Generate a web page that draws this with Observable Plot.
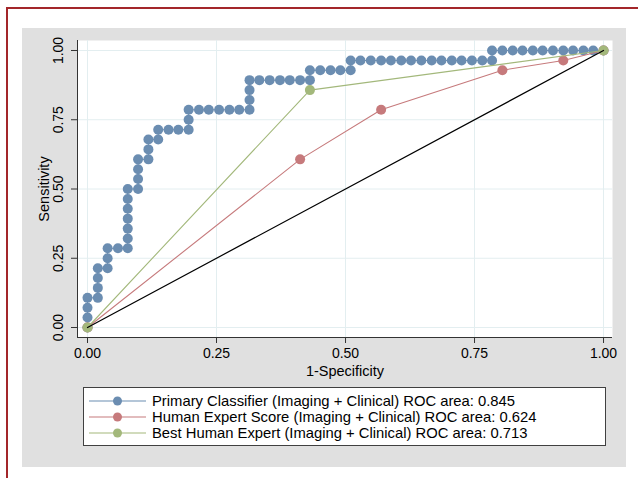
<!DOCTYPE html>
<html><head><meta charset="utf-8">
<script src="https://cdn.jsdelivr.net/npm/d3@7"></script>
<script src="https://cdn.jsdelivr.net/npm/@observablehq/plot@0.6"></script>
<style>
html,body{margin:0;padding:0;background:#fff;}
#wrap{position:relative;width:638px;height:478px;overflow:hidden;background:#fff;font-family:"Liberation Sans",Arial,Helvetica,sans-serif;}
#redTop{position:absolute;left:6px;top:7px;width:632px;height:2px;background:#a3262a;}
#redLeft{position:absolute;left:6px;top:7px;width:2px;height:471px;background:#a3262a;}
#panel{position:absolute;left:22px;top:28px;width:604px;height:439px;background:#e0e0e0;}
#chart{position:absolute;left:22px;top:28px;}
#legend{position:absolute;left:83px;top:387px;width:523px;height:59px;background:#fff;border:1px solid #404040;box-sizing:border-box;}
.row{position:absolute;left:0;height:16px;font-size:14.8px;line-height:16px;color:#000;white-space:nowrap;}
.row svg{position:absolute;left:5px;top:0;}
.row span{position:absolute;left:68px;top:0;}
</style></head>
<body>
<div id="wrap">
  <div id="redTop"></div><div id="redLeft"></div>
  <div id="panel"></div>
  <div id="chart"></div>
  <div id="legend"></div>
</div>
<script>
// Primary classifier ROC (1-specificity, sensitivity)
const primaryFpr = [
  0,0,0,0,
  0.020,0.020,0.020,0.020,
  0.039,0.039,0.039,
  0.059,
  0.078,0.078,0.078,0.078,0.078,0.078,0.078,
  0.098,0.098,0.098,0.098,
  0.118,0.118,0.118,
  0.137,0.137,
  0.157,0.176,0.196,0.196,0.196,
  0.216,0.235,0.255,0.275,0.294,0.314,0.314,0.314,0.314,
  0.333,0.353,0.373,0.392,0.412,0.431,0.431,
  0.451,0.471,0.490,0.510,0.510,
  0.529,0.549,0.569,0.588,0.608,0.627,0.647,0.667,0.686,0.706,0.725,0.745,0.765,0.784,0.784,
  0.804,0.824,0.843,0.863,0.882,0.902,0.922,0.941,0.961,0.980,1.000
];
const primaryTpr = [
  0,0.036,0.071,0.107,
  0.107,0.143,0.179,0.214,
  0.214,0.250,0.286,
  0.286,
  0.286,0.321,0.357,0.393,0.429,0.464,0.500,
  0.500,0.536,0.571,0.607,
  0.607,0.643,0.679,
  0.679,0.714,
  0.714,0.714,0.714,0.750,0.786,
  0.786,0.786,0.786,0.786,0.786,0.786,0.821,0.857,0.893,
  0.893,0.893,0.893,0.893,0.893,0.893,0.929,
  0.929,0.929,0.929,0.929,0.964,
  0.964,0.964,0.964,0.964,0.964,0.964,0.964,0.964,0.964,0.964,0.964,0.964,0.964,0.964,1.000,
  1.000,1.000,1.000,1.000,1.000,1.000,1.000,1.000,1.000,1.000,1.000
];
// Human expert score ROC
const humanFpr = [0,0.412,0.569,0.804,0.922,1];
const humanTpr = [0,0.607,0.786,0.929,0.964,1];
// Best human expert ROC
const bestFpr = [0,0.431,1];
const bestTpr = [0,0.857,1];
// Reference diagonal
const refFpr = [0,1];
const refTpr = [0,1];

const axisTicks = [0,0.25,0.5,0.75,1];
const xTitle = "1-Specificity";
const yTitle = "Sensitivity";
const seriesNames = [
  "Primary Classifier (Imaging + Clinical) ROC area: 0.845",
  "Human Expert Score (Imaging + Clinical) ROC area: 0.624",
  "Best Human Expert (Imaging + Clinical) ROC area: 0.713"
];
const seriesColors = ["#6b8db1","#c67a7c","#a3b87b"];

const toRows = (xs, ys) => xs.map((x,i)=>({x, y: ys[i]}));
const primary = toRows(primaryFpr, primaryTpr);
const human = toRows(humanFpr, humanTpr);
const best = toRows(bestFpr, bestTpr);
const ref = toRows(refFpr, refTpr);

const xDom = [-0.0194, 1.0174];
const yDom = [-0.0361, 1.0361];
const fmt = d3.format(".2f");
const font = '"Liberation Sans", Arial, Helvetica, sans-serif';
const axisColor = "#333";

const chart = Plot.plot({
  width: 604, height: 352,
  marginLeft: 55, marginRight: 14, marginTop: 12, marginBottom: 43,
  x: {domain: xDom}, y: {domain: yDom},
  style: {fontFamily: font, fontSize: "14px", background: "transparent", overflow: "visible", color: "#000"},
  marks: [
    Plot.frame({fill: "white", stroke: null}),
    Plot.gridX(axisTicks, {stroke: "#e3eef0", strokeOpacity: 1}),
    Plot.gridY(axisTicks, {stroke: "#e3eef0", strokeOpacity: 1}),
    Plot.line(primary, {x: "x", y: "y", stroke: seriesColors[0], strokeWidth: 1}),
    Plot.dot(primary, {x: "x", y: "y", r: 5, fill: seriesColors[0], stroke: null}),
    Plot.line(human, {x: "x", y: "y", stroke: seriesColors[1], strokeWidth: 1.1}),
    Plot.dot(human, {x: "x", y: "y", r: 5, fill: seriesColors[1], stroke: null}),
    Plot.line(best, {x: "x", y: "y", stroke: seriesColors[2], strokeWidth: 1.1}),
    Plot.dot(best, {x: "x", y: "y", r: 5, fill: seriesColors[2], stroke: null}),
    Plot.line(ref, {x: "x", y: "y", stroke: "#000", strokeWidth: 1.2}),
    Plot.ruleX([xDom[0]], {stroke: axisColor, strokeWidth: 1}),
    Plot.ruleY([yDom[0]], {stroke: axisColor, strokeWidth: 1}),
    Plot.axisX(axisTicks, {tickFormat: fmt, tickSize: 6, tickPadding: 5, fontSize: 14, label: null, stroke: axisColor}),
    Plot.axisY(axisTicks, {tickFormat: () => "", tickSize: 6, label: null, stroke: axisColor}),
    Plot.text(axisTicks, {y: d => d, text: d => fmt(d), frameAnchor: "left", dx: -19, rotate: -90, textAnchor: "middle", lineAnchor: "middle", fontSize: 14}),
    Plot.text([yTitle], {frameAnchor: "left", dx: -33, rotate: -90, textAnchor: "middle", lineAnchor: "middle", fontSize: 14.5}),
    Plot.text([xTitle], {frameAnchor: "bottom", dy: 34, textAnchor: "middle", lineAnchor: "middle", fontSize: 14.5})
  ]
});
document.getElementById("chart").appendChild(chart);

// Legend
const legend = document.getElementById("legend");
const rowTops = [5, 21, 37];
seriesNames.forEach((name, i) => {
  const row = document.createElement("div");
  row.className = "row";
  row.style.top = rowTops[i] + "px";
  const c = seriesColors[i];
  row.innerHTML = `<svg width="58" height="16"><line x1="0" x2="57" y1="8" y2="8" stroke="${c}" stroke-width="1.2"/><circle cx="28.5" cy="8" r="4.5" fill="${c}"/></svg><span>${name}</span>`;
  legend.appendChild(row);
});
</script>
</body></html>
